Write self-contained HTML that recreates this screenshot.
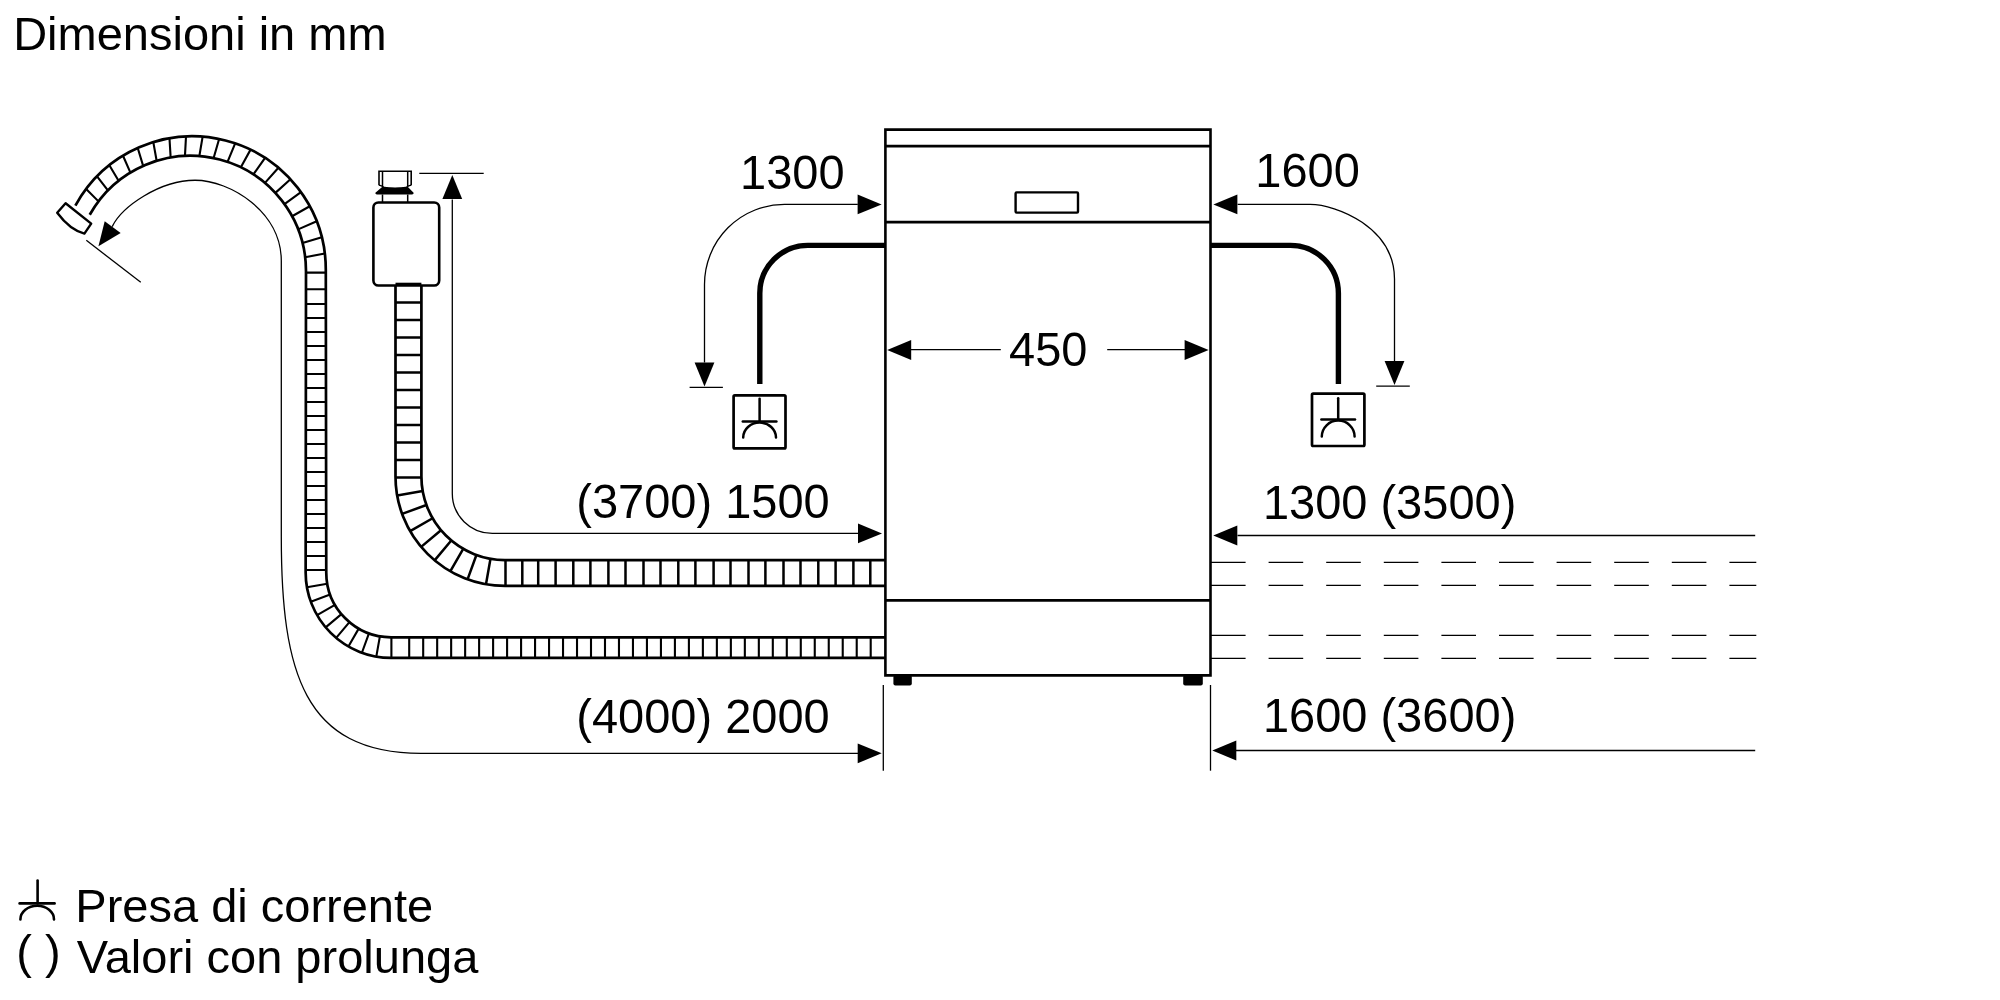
<!DOCTYPE html><html><head><meta charset="utf-8"><style>html,body{margin:0;padding:0;background:#fff;overflow:hidden;width:2000px;height:1000px;}svg{display:block;font-family:"Liberation Sans",sans-serif;}</style></head><body><svg width="2000" height="1000" viewBox="0 0 2000 1000"><g fill="none" stroke="#000"><path d="M89.73,214.76A115.5,115.5 0 0 1 306,271.2L305.65,572.4A85.5,85.5 0 0 0 391.15,657.9H885.4" stroke-width="2.7" fill="none" /><path d="M75.39,205.65A133.39,133.39 0 0 1 325.8,269.67L326.25,572.4A64.9,64.9 0 0 0 391.15,637.3H885.4" stroke-width="2.7" fill="none" /><path d="M305.15,257.22L324.82,253.53M302.52,243.06L321.78,237.17M298.15,229.34L316.73,221.32M292.1,216.27L309.75,206.23M284.47,204.05L300.94,192.12M275.38,192.87L290.44,179.21M264.97,182.92L278.42,167.71M253.41,174.33L265.06,157.8M240.86,167.26L250.57,149.63M227.53,161.8L235.18,143.32M213.63,158.04L219.12,138.98M199.36,156.04L202.64,136.67M184.96,155.83L186.01,136.43M170.64,157.42L169.48,138.27M156.63,160.78L153.3,142.14M143.15,165.85L137.73,148M130.41,172.56L123.01,155.75M118.6,180.81L109.37,165.28M107.91,190.46L97.03,176.43M98.5,201.37L86.16,189.02M306,272.6H325.8M305.98,289.2H325.83M305.96,304H325.85M305.94,318H325.87M305.93,332H325.89M305.91,346H325.91M305.9,360H325.93M305.88,374H325.95M305.86,388H325.98M305.85,402H326M305.83,416H326.02M305.81,430H326.04M305.8,444H326.06M305.78,458H326.08M305.77,472H326.1M305.75,486H326.12M305.73,500H326.14M305.72,514H326.16M305.7,528H326.18M305.69,542H326.2M305.67,556H326.23M305.65,570H326.25M327.24,583.67L306.95,587.25M330.16,594.6L310.81,601.64M334.94,604.85L317.1,615.15M341.43,614.12L325.65,627.36M349.43,622.12L336.19,637.9M358.7,628.61L348.4,646.45M368.95,633.39L361.91,652.74M379.88,636.31L376.3,656.6M391.4,637.3V657.9M409.2,637.3V657.9M423.19,637.3V657.9M437.17,637.3V657.9M451.15,637.3V657.9M465.14,637.3V657.9M479.12,637.3V657.9M493.11,637.3V657.9M507.09,637.3V657.9M521.08,637.3V657.9M535.06,637.3V657.9M549.05,637.3V657.9M563.03,637.3V657.9M577.02,637.3V657.9M591,637.3V657.9M604.99,637.3V657.9M618.97,637.3V657.9M632.96,637.3V657.9M646.94,637.3V657.9M660.93,637.3V657.9M674.91,637.3V657.9M688.9,637.3V657.9M702.88,637.3V657.9M716.87,637.3V657.9M730.86,637.3V657.9M744.84,637.3V657.9M758.83,637.3V657.9M772.81,637.3V657.9M786.79,637.3V657.9M800.78,637.3V657.9M814.76,637.3V657.9M828.75,637.3V657.9M842.73,637.3V657.9M856.72,637.3V657.9M870.7,637.3V657.9" stroke-width="2.1" fill="none" /><path d="M395.5,285.3L395.5,476.45A109.5,109.5 0 0 0 505,585.95L885.4,585.95" stroke-width="2.7" fill="none" /><path d="M421.4,285.3L421.4,476.45A83.6,83.6 0 0 0 505,560.05L885.4,560.05" stroke-width="2.7" fill="none" /><path d="M395.5,302.4L421.4,302.4M395.5,319.9L421.4,319.9M395.5,337.4L421.4,337.4M395.5,354.9L421.4,354.9M395.5,372.4L421.4,372.4M395.5,389.9L421.4,389.9M395.5,407.4L421.4,407.4M395.5,424.9L421.4,424.9M395.5,442.4L421.4,442.4M395.5,459.9L421.4,459.9M395.5,477.4L421.4,477.4M397.16,495.46L422.67,490.97M402.1,513.9L426.44,505.04M410.17,531.2L432.6,518.25M421.12,546.84L440.96,530.19M434.61,560.33L451.26,540.49M450.25,571.28L463.2,548.85M467.55,579.35L476.41,555.01M485.99,584.29L490.48,558.78M505.5,585.95L505.5,560.05M522.3,585.95L522.3,560.05M538.2,585.95L538.2,560.05M555.6,585.95L555.6,560.05M573.3,585.95L573.3,560.05M590.4,585.95L590.4,560.05M608.4,585.95L608.4,560.05M625.5,585.95L625.5,560.05M643.5,585.95L643.5,560.05M660.5,585.95L660.5,560.05M678.3,585.95L678.3,560.05M695.4,585.95L695.4,560.05M713.6,585.95L713.6,560.05M730.5,585.95L730.5,560.05M748.5,585.95L748.5,560.05M765.4,585.95L765.4,560.05M783.5,585.95L783.5,560.05M800.5,585.95L800.5,560.05M818.3,585.95L818.3,560.05M835.6,585.95L835.6,560.05M853.4,585.95L853.4,560.05M870.3,585.95L870.3,560.05" stroke-width="2.5" fill="none" /></g><g fill="none" stroke="#000"><path d="M885.4,675.4V129.6H1210.5V675.4Z" stroke-width="2.6" fill="none" stroke-linejoin="miter"/><line x1="885.4" y1="146.1" x2="1210.5" y2="146.1" stroke-width="2.6" stroke-linecap="butt"/><line x1="885.4" y1="222.1" x2="1210.5" y2="222.1" stroke-width="2.6" stroke-linecap="butt"/><line x1="885.4" y1="600.4" x2="1210.5" y2="600.4" stroke-width="2.6" stroke-linecap="butt"/><rect x="1015.6" y="192.4" width="62.4" height="20.2" rx="1" stroke-width="2.4"/><rect x="893.4" y="675" width="18.4" height="10.6" rx="2" fill="#000" stroke="none"/><rect x="1183.2" y="675" width="19.6" height="10.6" rx="2" fill="#000" stroke="none"/><line x1="883.3" y1="685" x2="883.3" y2="770.7" stroke-width="1.3" stroke-linecap="butt"/><line x1="1210.5" y1="685" x2="1210.5" y2="770.7" stroke-width="1.3" stroke-linecap="butt"/><path d="M885.4,245.35H807.8A48,48 0 0 0 759.8,293.35V384" stroke-width="5.4" fill="none" /><path d="M1210.5,245.35H1290.4A48,48 0 0 1 1338.4,293.35V384" stroke-width="5.4" fill="none" /><rect x="733.6" y="395.4" width="51.9" height="53" rx="1.2" stroke-width="2.7"/><rect x="1312" y="393.6" width="52.4" height="52.4" rx="1.2" stroke-width="2.7"/><line x1="759.6" y1="398.8" x2="759.6" y2="421.4" stroke-width="2.5" stroke-linecap="round"/><line x1="742.8" y1="421.4" x2="776.4" y2="421.4" stroke-width="2.5" stroke-linecap="round"/><path d="M743.2,437.5A16.4,14.9 0 0 1 776,437.5" stroke-width="2.5" fill="none" stroke-linecap="round"/><line x1="1338.2" y1="398.2" x2="1338.2" y2="419.4" stroke-width="2.5" stroke-linecap="round"/><line x1="1321.4" y1="419.4" x2="1355" y2="419.4" stroke-width="2.5" stroke-linecap="round"/><path d="M1321.8,436.6A16.4,16 0 0 1 1354.6,436.6" stroke-width="2.5" fill="none" stroke-linecap="round"/><path d="M857.8,204.4H784.5A80,80 0 0 0 704.5,284.4V362.5" stroke-width="1.3" fill="none" /><path d="M881.6,204.4L857.6,214.3L857.6,194.5Z" fill="#000" stroke="none"/><path d="M704.5,386.4L694.6,362.4L714.4,362.4Z" fill="#000" stroke="none"/><line x1="689.6" y1="387.4" x2="722.9" y2="387.4" stroke-width="1.3" stroke-linecap="butt"/><path d="M1237.6,204.4H1310C1336.17,204.4 1394.5,227.35 1394.5,279.05V361" stroke-width="1.3" fill="none" /><path d="M1213.4,204.4L1237.4,194.5L1237.4,214.3Z" fill="#000" stroke="none"/><path d="M1394.5,385L1384.6,361L1404.4,361Z" fill="#000" stroke="none"/><line x1="1376.2" y1="386.2" x2="1409.8" y2="386.2" stroke-width="1.3" stroke-linecap="butt"/><line x1="911" y1="349.6" x2="1000.8" y2="349.6" stroke-width="1.3" stroke-linecap="butt"/><line x1="1107.2" y1="349.6" x2="1185" y2="349.6" stroke-width="1.3" stroke-linecap="butt"/><path d="M887.2,350L911.2,340.1L911.2,359.9Z" fill="#000" stroke="none"/><path d="M1208.6,350L1184.6,359.9L1184.6,340.1Z" fill="#000" stroke="none"/><path d="M452.3,199.5V493.4A40,40 0 0 0 492.3,533.4H858" stroke-width="1.3" fill="none" /><path d="M452.3,175L462.2,199L442.4,199Z" fill="#000" stroke="none"/><line x1="419.3" y1="173.3" x2="483.7" y2="173.3" stroke-width="1.3" stroke-linecap="butt"/><path d="M882,533.4L858,543.3L858,523.5Z" fill="#000" stroke="none"/><path d="M112.2,226.6C121.77,206.84 159.63,180.25 195,180.25C230.6,180.25 281.3,212.1 281.3,260.8V536.8C281.3,672.2 303.75,753.3 421,753.3H858" stroke-width="1.3" fill="none" /><path d="M98.45,246.35L104.72,221.16L120.66,232.91Z" fill="#000" stroke="none"/><line x1="86.3" y1="240.3" x2="140.75" y2="282.35" stroke-width="1.3" stroke-linecap="butt"/><path d="M881.7,753.3L857.7,763.2L857.7,743.4Z" fill="#000" stroke="none"/><line x1="1237.5" y1="535.5" x2="1755.2" y2="535.5" stroke-width="1.3" stroke-linecap="butt"/><path d="M1213.3,535.5L1237.3,525.6L1237.3,545.4Z" fill="#000" stroke="none"/><line x1="1236" y1="750.5" x2="1755.2" y2="750.5" stroke-width="1.3" stroke-linecap="butt"/><path d="M1212.3,750.5L1236.3,740.6L1236.3,760.4Z" fill="#000" stroke="none"/><line x1="1211" y1="562.4" x2="1756.3" y2="562.4" stroke-width="1.3" stroke-dasharray="34.6 23"/><line x1="1211" y1="585.3" x2="1756.3" y2="585.3" stroke-width="1.3" stroke-dasharray="34.6 23"/><line x1="1211" y1="635.3" x2="1756.3" y2="635.3" stroke-width="1.3" stroke-dasharray="34.6 23"/><line x1="1211" y1="658.3" x2="1756.3" y2="658.3" stroke-width="1.3" stroke-dasharray="34.6 23"/><rect x="373.4" y="202.5" width="65.8" height="83" rx="5" stroke-width="2.6"/><path d="M379,185.2V171.2H411.2V185.2" stroke-width="1.6" fill="none" /><path d="M382.5,171.2V186.5M407.7,171.2V186.5" stroke-width="1.5" fill="none" /><path d="M379,185.2Q385,187 382.5,187.2Q395,189 407.7,187.2Q405,187 411.2,185.2" stroke-width="1.4"/><path d="M382.4,186.8Q395,189.4 407.7,186.8L413.6,192.8Q414,194.6 412,194.6H377Q375,194.6 375.4,192.8Z" fill="#000" stroke="none"/><path d="M382.5,194.5V202M407.7,194.5V202" stroke-width="1.5" fill="none" /><line x1="395.5" y1="284.3" x2="421.4" y2="284.3" stroke-width="3.2" stroke-linecap="butt"/><path d="M65.6,203.2L91.2,223.6L84.4,233.6Q70,230 57.2,212.8Z" stroke-width="2.4" stroke-linejoin="round"/></g><g font-family="Liberation Sans, sans-serif" fill="#000" style="opacity:0.999"><text x="13.15" y="50" font-size="47">Dimensioni in mm</text><text transform="translate(740.1,189) scale(1,1.035)" font-size="47">1300</text><text transform="translate(1255.3,187) scale(1,1.035)" font-size="47">1600</text><text transform="translate(1009,366) scale(1,1.035)" font-size="47">450</text><text transform="translate(576.3,518.5) scale(1,1.035)" font-size="47">(3700) 1500</text><text transform="translate(1262.9,519) scale(1,1.035)" font-size="47">1300 (3500)</text><text transform="translate(576.3,733.5) scale(1,1.035)" font-size="47">(4000) 2000</text><text transform="translate(1262.9,732) scale(1,1.035)" font-size="47">1600 (3600)</text><text x="75.3" y="922" font-size="47">Presa di corrente</text><text x="76.8" y="972.5" font-size="47">Valori con prolunga</text><text x="16.3" y="967.5" font-size="47">( )</text></g><g fill="none" stroke="#000" stroke-width="2.6" stroke-linecap="round"><line x1="37.6" y1="880.6" x2="37.6" y2="903.4"/><line x1="19.6" y1="903.4" x2="54.6" y2="903.4"/><path d="M20.4,919.4A16.8,13.6 0 0 1 54,919.4"/></g></svg></body></html>
